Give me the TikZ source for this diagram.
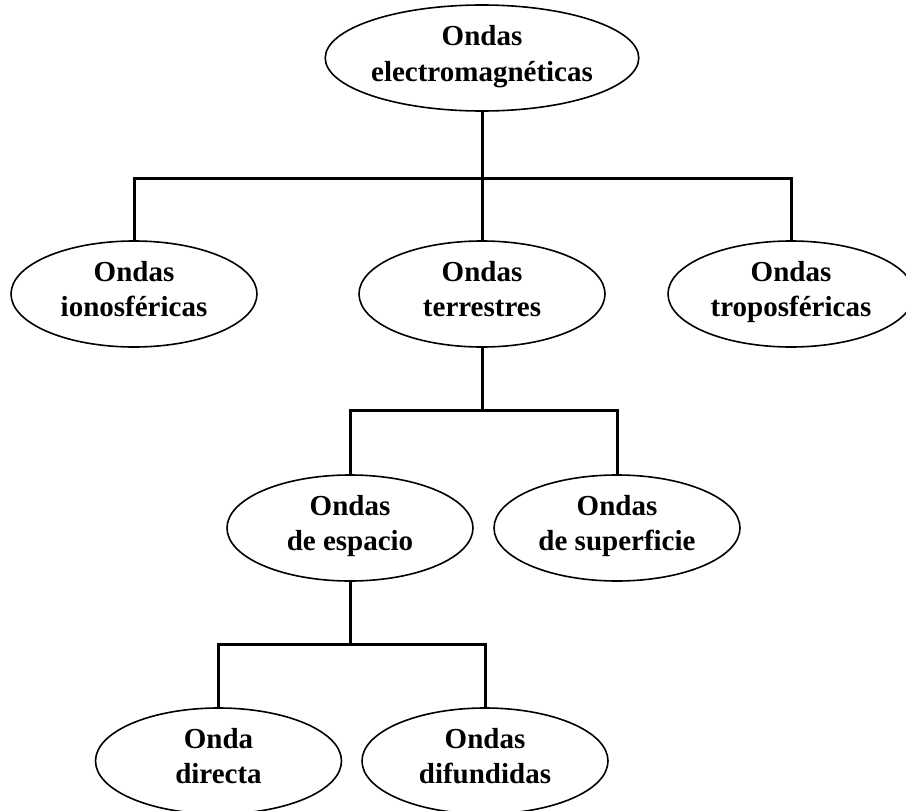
\documentclass[tikz,border=0pt]{standalone}
\usepackage{fontspec}
\setmainfont{Liberation Serif}
\usetikzlibrary{shapes.geometric}

% struts giving every line the same height and depth
\newcommand\wavestrut{\rule[-0.3\baselineskip]{0pt}{\baselineskip}}
\newcommand\rootstrut{\rule[-0.25\baselineskip]{0pt}{\baselineskip}}

\tikzset{
  wave/.style={ellipse, draw, line width=1.6pt, fill=white,
    minimum width=246pt, minimum height=106pt, inner sep=0pt,
    align=center, font=\bfseries\fontsize{29}{34.5}\selectfont,
    execute at begin node=\wavestrut, execute at end node=\wavestrut},
  rootwave/.style={ellipse, draw, line width=1.6pt, fill=white,
    minimum width=246pt, minimum height=106pt, inner sep=0pt,
    align=center, font=\bfseries\fontsize{29}{36.5}\selectfont,
    execute at begin node=\rootstrut, execute at end node=\rootstrut},
  link/.style={line width=3pt, line join=miter}
}

\begin{document}
\begin{tikzpicture}[x=1pt, y=-1pt]
  \useasboundingbox (0,0) rectangle (906,811);

  % classification tree of electromagnetic waves
  \node[rootwave] (em) at (482,58) {Ondas\\electromagnéticas};
  \node[wave] (iono)  at (134,294)   {Ondas\\ionosféricas};
  \node[wave] (terr)  at (482,294)   {Ondas\\terrestres};
  \node[wave] (tropo) at (791,294)   {Ondas\\troposféricas};
  \node[wave] (esp)   at (350,528)   {Ondas\\de espacio};
  \node[wave] (sup)   at (617,528)   {Ondas\\de superficie};
  \node[wave] (dir)   at (218.5,761) {Onda\\directa};
  \node[wave] (dif)   at (485,761)   {Ondas\\difundidas};

  % junction points of the branching lines
  \coordinate (j1) at (482,178.5);
  \coordinate (j2) at (482,410.7);
  \coordinate (j3) at (350,644);

  \draw[link] (em.south) -- (j1);
  \draw[link] (iono.north) |- (j1) -| (tropo.north);
  \draw[link] (j1) -- (terr.north);

  \draw[link] (terr.south) -- (j2);
  \draw[link] (esp.north) |- (j2) -| (sup.north);

  \draw[link] (esp.south) -- (j3);
  \draw[link] (dir.north) |- (j3) -| (dif.north);
\end{tikzpicture}
\end{document}
